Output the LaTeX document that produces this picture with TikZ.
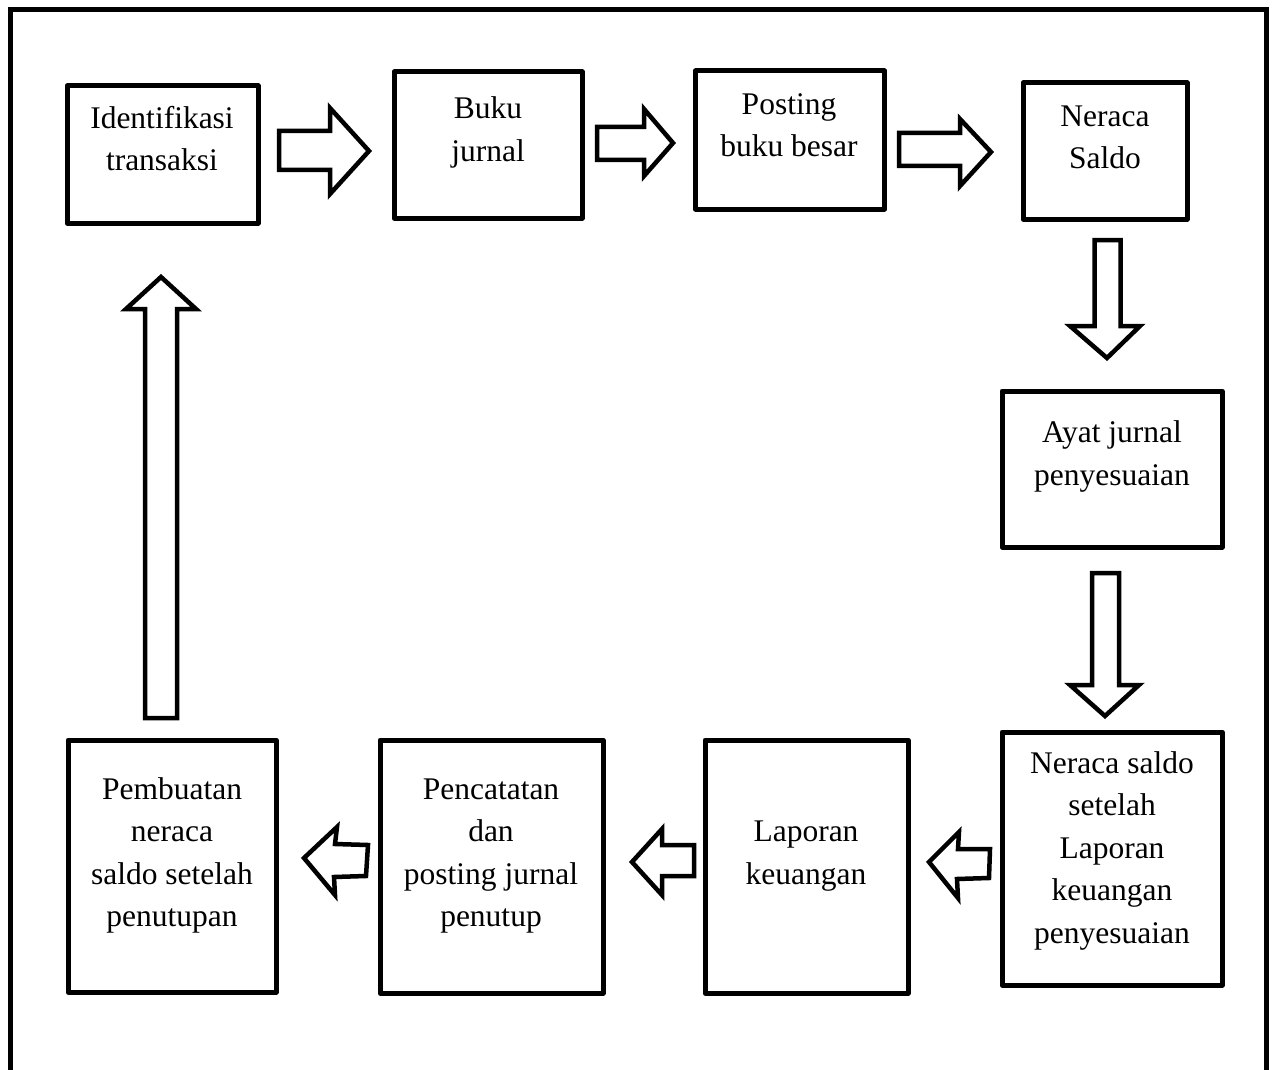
\documentclass[tikz,border=0pt]{standalone}
\usepackage{fontspec}
\setmainfont{Liberation Serif}
\begin{document}
\begin{tikzpicture}[x=1pt,y=-1pt,
  box/.style={draw=black, line width=5pt, line join=round, fill=white, inner sep=0pt},
  lbl/.style={align=center, anchor=base, inner sep=0pt, font=\fontsize{31.5}{42.5}\selectfont},
  blockarrow/.style={draw=black, line width=4.5pt, line join=miter, fill=white},
  frame/.style={draw=black, line width=5pt}]
\useasboundingbox (0,0) rectangle (1275,1070);
% outer frame (bottom edge lies outside the picture)
\draw[frame] (10,1075) -- (10,10) -- (1266,10) -- (1266,1075);

% boxes
\node[box, minimum width=191pt, minimum height=137pt] (n1) at (162.5,154.5) {};
\node[box, minimum width=188pt, minimum height=146pt] (n2) at (488,145) {};
\node[box, minimum width=189pt, minimum height=138pt] (n3) at (790,140) {};
\node[box, minimum width=164pt, minimum height=136pt] (n4) at (1105,151) {};
\node[box, minimum width=220pt, minimum height=156pt] (n5) at (1112,469) {};
\node[box, minimum width=220pt, minimum height=253pt] (n6) at (1112,858.5) {};
\node[box, minimum width=203pt, minimum height=253pt] (n7) at (806.5,866.5) {};
\node[box, minimum width=223pt, minimum height=253pt] (n8) at (491.5,866.5) {};
\node[box, minimum width=208pt, minimum height=252pt] (n9) at (172,866) {};

% labels (base anchor = baseline of the last line)
\node[lbl] (t1) at (162,171) {Identifikasi\\transaksi};
\node[lbl] (t2) at (488,161) {Buku\\jurnal};
\node[lbl] (t3) at (789,157) {Posting\\buku besar};
\node[lbl] (t4) at (1105,169) {Neraca\\Saldo};
\node[lbl] (t5) at (1112,485) {Ayat jurnal\\penyesuaian};
\node[lbl] (t6) at (1112,943) {Neraca saldo\\setelah\\Laporan\\keuangan\\penyesuaian};
\node[lbl] (t7) at (806,884) {Laporan\\keuangan};
\node[lbl] (t8) at (491,926.5) {Pencatatan\\dan\\posting jurnal\\penutup};
\node[lbl] (t9) at (172,926.5) {Pembuatan\\neraca\\saldo setelah\\penutupan};

% block arrows
% n1 -> n2
\draw[blockarrow] (279,131) -- (330,131) -- (330,108) -- (369,151) -- (330,194) -- (330,170) -- (279,170) -- cycle;
% n2 -> n3
\draw[blockarrow] (597,127) -- (644,127) -- (644,109) -- (673,143) -- (644,176) -- (644,160) -- (597,160) -- cycle;
% n3 -> n4
\draw[blockarrow] (899,133) -- (960,133) -- (960,119) -- (991,152) -- (960,186) -- (960,166) -- (899,166) -- cycle;
% n4 -> n5
\draw[blockarrow] (1094.5,240) -- (1120.5,240) -- (1120.5,326) -- (1140,326) -- (1107,358) -- (1070,326) -- (1094.5,326) -- cycle;
% n5 -> n6
\draw[blockarrow] (1092,573) -- (1119,573) -- (1119,685) -- (1139,685) -- (1105,716) -- (1070,685) -- (1092,685) -- cycle;
% n6 -> n7
\draw[blockarrow] (929,862) -- (959,832) -- (958,849) -- (990,849) -- (989,878) -- (957,879) -- (958,898) -- cycle;
% n7 -> n8
\draw[blockarrow] (632,862) -- (662,829) -- (662,845) -- (694,845) -- (694,876) -- (662,876) -- (662,895) -- cycle;
% n8 -> n9
\draw[blockarrow] (304,858) -- (337,827) -- (335,844) -- (368,845) -- (366,876) -- (334,877) -- (335,895) -- cycle;
% n9 -> n1
\draw[blockarrow] (145,718) -- (145,309) -- (126,309) -- (161,277) -- (196,309) -- (177,309) -- (177,718) -- cycle;
\end{tikzpicture}
\end{document}
